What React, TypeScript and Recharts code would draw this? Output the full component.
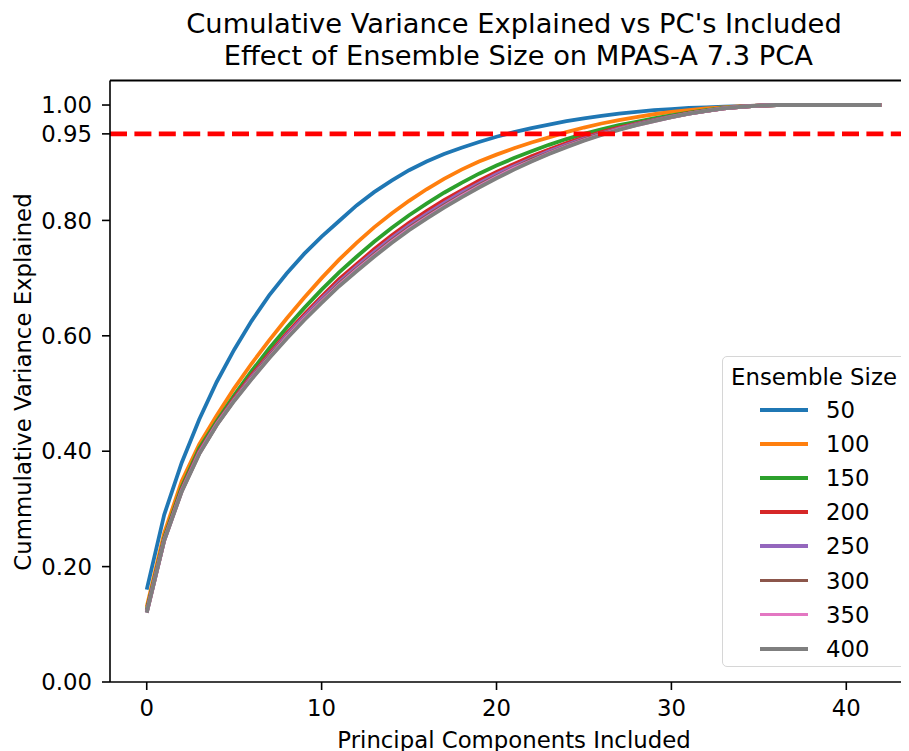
import React from "react";
import { LineChart, Line, XAxis, YAxis, ReferenceLine } from "recharts";

// Cumulative explained variance per number of PCs kept (index = PC count)
const size50 = [
  0.16, 0.29, 0.38, 0.455, 0.52, 0.576, 0.626, 0.67, 0.708, 0.742, 0.772,
  0.799, 0.826, 0.849, 0.869, 0.887, 0.902, 0.915, 0.926, 0.936, 0.945, 0.953,
  0.96, 0.966, 0.972, 0.977, 0.981, 0.985, 0.988, 0.991, 0.993, 0.995, 0.996,
  0.997, 0.998, 0.999, 1.0, 1.0, 1.0, 1.0, 1.0, 1.0, 1.0,
];
const size100 = [
  0.13, 0.258, 0.348, 0.412, 0.462, 0.509, 0.552, 0.592, 0.63, 0.666, 0.7,
  0.732, 0.761, 0.788, 0.812, 0.834, 0.854, 0.872, 0.888, 0.902, 0.914, 0.925,
  0.935, 0.944, 0.953, 0.961, 0.968, 0.974, 0.979, 0.984, 0.988, 0.991, 0.994,
  0.996, 0.998, 0.999, 1.0, 1.0, 1.0, 1.0, 1.0, 1.0, 1.0,
];
const size150 = [
  0.125, 0.25, 0.338, 0.405, 0.452, 0.497, 0.539, 0.578, 0.614, 0.648, 0.68,
  0.71, 0.737, 0.763, 0.787, 0.809, 0.829, 0.848, 0.865, 0.881, 0.895, 0.908,
  0.92, 0.931, 0.941, 0.95, 0.958, 0.965, 0.971, 0.977, 0.982, 0.987, 0.991,
  0.995, 0.997, 0.999, 1.0, 1.0, 1.0, 1.0, 1.0, 1.0, 1.0,
];
const size200 = [
  0.122, 0.247, 0.334, 0.4, 0.448, 0.492, 0.532, 0.569, 0.604, 0.637, 0.668,
  0.698, 0.724, 0.75, 0.774, 0.796, 0.816, 0.835, 0.852, 0.869, 0.884, 0.898,
  0.911, 0.923, 0.934, 0.944, 0.953, 0.961, 0.968, 0.974, 0.98, 0.986, 0.99,
  0.994, 0.997, 0.999, 1.0, 1.0, 1.0, 1.0, 1.0, 1.0, 1.0,
];
const size250 = [
  0.121, 0.246, 0.332, 0.398, 0.447, 0.49, 0.529, 0.566, 0.601, 0.633, 0.664,
  0.693, 0.72, 0.745, 0.769, 0.791, 0.811, 0.83, 0.848, 0.864, 0.88, 0.894,
  0.907, 0.92, 0.931, 0.942, 0.951, 0.959, 0.967, 0.974, 0.98, 0.985, 0.99,
  0.994, 0.997, 0.999, 1.0, 1.0, 1.0, 1.0, 1.0, 1.0, 1.0,
];
const size300 = [
  0.121, 0.246, 0.331, 0.396, 0.446, 0.489, 0.527, 0.564, 0.598, 0.63, 0.66,
  0.69, 0.716, 0.741, 0.765, 0.787, 0.807, 0.826, 0.844, 0.861, 0.876, 0.891,
  0.905, 0.917, 0.929, 0.94, 0.95, 0.958, 0.966, 0.973, 0.979, 0.985, 0.99,
  0.994, 0.997, 0.999, 1.0, 1.0, 1.0, 1.0, 1.0, 1.0, 1.0,
];
const size350 = [
  0.12, 0.245, 0.331, 0.396, 0.446, 0.488, 0.526, 0.562, 0.597, 0.629, 0.659,
  0.688, 0.714, 0.739, 0.763, 0.785, 0.805, 0.824, 0.842, 0.859, 0.875, 0.89,
  0.903, 0.916, 0.928, 0.939, 0.949, 0.958, 0.965, 0.972, 0.979, 0.985, 0.99,
  0.994, 0.997, 0.999, 1.0, 1.0, 1.0, 1.0, 1.0, 1.0, 1.0,
];
const size400 = [
  0.12, 0.245, 0.33, 0.395, 0.445, 0.487, 0.525, 0.561, 0.595, 0.627, 0.657,
  0.686, 0.712, 0.737, 0.761, 0.783, 0.803, 0.822, 0.84, 0.857, 0.873, 0.888,
  0.902, 0.915, 0.927, 0.938, 0.948, 0.957, 0.965, 0.972, 0.979, 0.985, 0.99,
  0.994, 0.997, 0.999, 1.0, 1.0, 1.0, 1.0, 1.0, 1.0, 1.0,
];

const ensembleSizes = ["50", "100", "150", "200", "250", "300", "350", "400"];
const seriesValues = [
  size50, size100, size150, size200, size250, size300, size350, size400,
];
const colors = [
  "#1f77b4", "#ff7f0e", "#2ca02c", "#d62728",
  "#9467bd", "#8c564b", "#e377c2", "#7f7f7f",
];

const xTicks = [0, 10, 20, 30, 40];
const yTicks = [0, 0.2, 0.4, 0.6, 0.8, 0.95, 1.0];
const threshold = 0.95;
const xDomain: [number, number] = [-2.1, 44.1];
const yDomain: [number, number] = [0, 1.0425];

const data = size50.map((_, i) => {
  const row: Record<string, number> = { pc: i };
  ensembleSizes.forEach((s, k) => {
    row["s" + s] = seriesValues[k][i];
  });
  return row;
});

const FONT = "'DejaVu Sans', sans-serif";
const FS = 22.8;
const tickStyle = { fontSize: FS, fill: "#000", fontFamily: FONT };

// plot box inside the chart svg
const PLOT_LEFT = 102;
const PLOT_TOP = 72.5;

// matplotlib-style legend box, drawn over the lower right of the axes
function EnsembleLegend() {
  return (
    <div
      style={{
        position: "absolute",
        left: 714,
        top: 348,
        width: 184,
        height: 311,
        boxSizing: "border-box",
        border: "1.5px solid #d6d6d6",
        borderRadius: 5,
        background: "rgba(255,255,255,0.8)",
        fontSize: FS,
        color: "#000",
      }}
    >
      <div
        style={{
          position: "absolute",
          top: 7,
          left: 0,
          width: "100%",
          textAlign: "center",
          lineHeight: "26px",
        }}
      >
        Ensemble Size
      </div>
      {ensembleSizes.map((s, i) => (
        <div
          key={s}
          style={{
            position: "absolute",
            left: 37,
            top: 40 + i * 34.1,
            height: 26,
            display: "flex",
            alignItems: "center",
          }}
        >
          <span
            style={{
              display: "inline-block",
              width: 48,
              height: 3.8,
              background: colors[i],
              marginRight: 18,
            }}
          />
          <span style={{ lineHeight: "26px" }}>{s}</span>
        </div>
      ))}
    </div>
  );
}

export default function App() {
  return (
    <div
      style={{
        position: "relative",
        width: 901,
        height: 743,
        overflow: "hidden",
        fontFamily: FONT,
      }}
    >
      <div
        style={{
          position: "absolute",
          top: 0,
          left: 102,
          width: 808,
          textAlign: "center",
          fontSize: 27.3,
          lineHeight: "32px",
          whiteSpace: "pre",
          color: "#000",
        }}
      >
        <div>Cumulative Variance Explained vs PC's Included</div>
        <div> Effect of Ensemble Size on MPAS-A 7.3 PCA</div>
      </div>

      <LineChart
        width={930}
        height={743}
        data={data}
        margin={{ top: PLOT_TOP - 1, right: 20, bottom: 0, left: 0 }}
      >
        <XAxis
          dataKey="pc"
          type="number"
          domain={xDomain}
          ticks={xTicks}
          allowDataOverflow
          height={69}
          stroke="#000"
          strokeWidth={1.6}
          tickSize={8}
          tickMargin={10}
          tick={tickStyle}
          interval={0}
        />
        {/* top spine */}
        <XAxis
          xAxisId="top"
          dataKey="pc"
          type="number"
          orientation="top"
          domain={xDomain}
          allowDataOverflow
          height={1}
          tick={false}
          tickLine={false}
          axisLine={{ stroke: "#000", strokeWidth: 1.8 }}
        />
        <YAxis
          type="number"
          domain={yDomain}
          ticks={yTicks}
          allowDataOverflow
          width={PLOT_LEFT}
          stroke="#000"
          strokeWidth={1.6}
          tickSize={8}
          tickMargin={10}
          tick={tickStyle}
          interval={0}
          tickFormatter={(v: number) => v.toFixed(2)}
        />
        {ensembleSizes.map((s, k) => (
          <Line
            key={s}
            dataKey={"s" + s}
            name={s}
            type="linear"
            stroke={colors[k]}
            strokeWidth={3.8}
            dot={false}
            activeDot={false}
            isAnimationActive={false}
          />
        ))}
        <ReferenceLine
          y={threshold}
          stroke="#ff0000"
          strokeWidth={4.8}
          strokeDasharray="17 7.4"
        />
      </LineChart>

      <EnsembleLegend />

      <div
        style={{
          position: "absolute",
          top: 719,
          left: 102,
          width: 808,
          textAlign: "center",
          fontSize: FS,
          lineHeight: "26px",
          color: "#000",
        }}
      >
        Principal Components Included
      </div>
      <div
        style={{
          position: "absolute",
          left: 15 - 220,
          top: 374 - 13,
          width: 440,
          textAlign: "center",
          fontSize: FS,
          lineHeight: "26px",
          transform: "rotate(-90deg)",
          color: "#000",
        }}
      >
        Cummulative Variance Explained
      </div>
    </div>
  );
}
